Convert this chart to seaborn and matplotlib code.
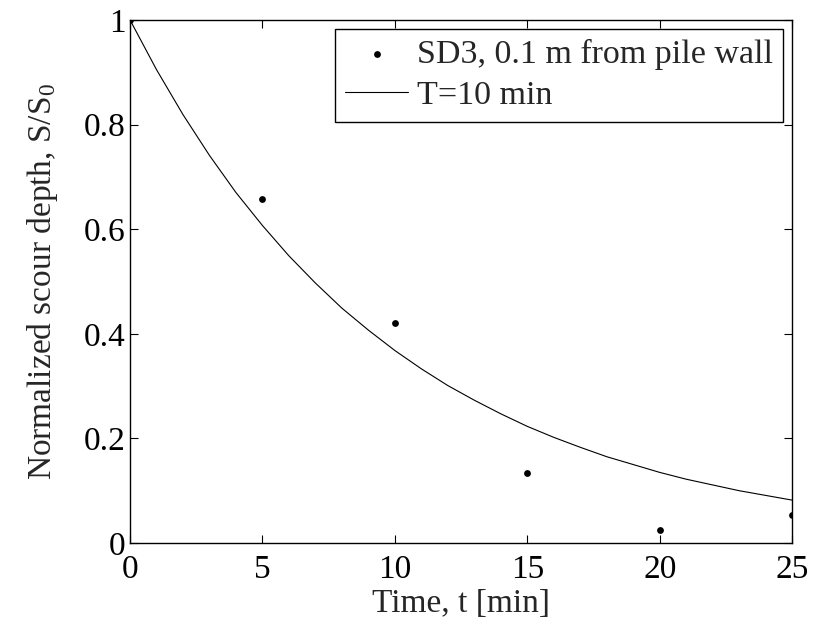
import matplotlib
matplotlib.use('Agg')
import matplotlib.pyplot as plt
import pandas as pd
import seaborn as sns

# Datos medidos (SD3, 0.1 m de la pared del pilote)
t_meas = [0, 5, 10, 15, 20, 25]
s_meas = [1.0, 0.657, 0.42, 0.133, 0.025, 0.053]

# Curva T=10 min
t_curve = list(range(0, 26))
s_curve = [1.0, 0.905, 0.819, 0.741, 0.670, 0.607, 0.549, 0.497, 0.449, 0.407,
           0.368, 0.333, 0.301, 0.273, 0.247, 0.223, 0.202, 0.183, 0.165, 0.150,
           0.135, 0.122, 0.111, 0.100, 0.091, 0.082]

x_ticks = [0, 5, 10, 15, 20, 25]
y_ticks = [0, 0.2, 0.4, 0.6, 0.8, 1]
y_tick_labels = ['0', '0.2', '0.4', '0.6', '0.8', '1']

df_meas = pd.DataFrame({'t': t_meas, 's': s_meas})
df_curve = pd.DataFrame({'t': t_curve, 's': s_curve})

sns.set_style('ticks')
plt.rcParams['font.family'] = ['Liberation Serif', 'DejaVu Serif']
plt.rcParams['mathtext.fontset'] = 'custom'
plt.rcParams['mathtext.rm'] = 'Liberation Serif'

fs = 24

fig = plt.figure(figsize=(8.36, 6.22), dpi=100)
ax = fig.add_axes([0.1555, 0.127, 0.792, 0.841])

sns.scatterplot(data=df_meas, x='t', y='s', ax=ax, color='black', s=24,
                linewidth=0, label='SD3, 0.1 m from pile wall', zorder=3)
sns.lineplot(data=df_curve, x='t', y='s', ax=ax, color='black', linewidth=0.8,
             label='T=10 min')

ax.set_xlim(0, 25)
ax.set_ylim(0, 1)
ax.set_xticks(x_ticks)
ax.set_xticklabels([str(v) for v in x_ticks])
ax.set_yticks(y_ticks)
ax.set_yticklabels(y_tick_labels)
ax.tick_params(direction='in', length=6, width=0.8, labelsize=fs,
               top=True, right=True, colors='black')
ax.tick_params(axis='x', pad=8)
ax.tick_params(axis='y', pad=3)
for sp in ax.spines.values():
    sp.set_visible(True)
    sp.set_linewidth(1.0)
    sp.set_color('black')

ax.set_xlabel('Time, t [min]', fontsize=fs, labelpad=3)
ax.set_ylabel(r'Normalized scour depth, S/S$\mathregular{_0}$', fontsize=fs, labelpad=17)

leg = ax.legend(loc='upper right', fontsize=24.5, frameon=True, fancybox=False,
                framealpha=1, edgecolor='black', borderpad=0.3,
                handlelength=1.85, handletextpad=0.25, labelspacing=0.3,
                borderaxespad=0.27, markerscale=1.0)
leg.get_frame().set_linewidth(1.0)

fig.savefig('out.png', dpi=100)
